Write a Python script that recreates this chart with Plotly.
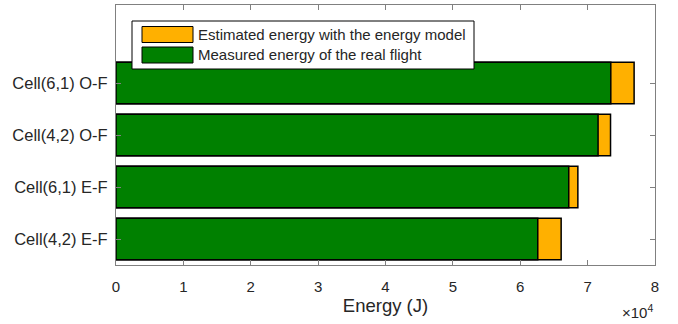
import plotly.graph_objects as go

categories = ["Cell(4,2) E-F", "Cell(6,1) E-F", "Cell(4,2) O-F", "Cell(6,1) O-F"]
measured = [62600, 67200, 71550, 73440]
estimated = [66070, 68550, 73400, 76900]
x_tick_vals = [0, 10000, 20000, 30000, 40000, 50000, 60000, 70000, 80000]
x_tick_text = ["0", "1", "2", "3", "4", "5", "6", "7", "8"]
legend_labels = ["Estimated energy with the energy model", "Measured energy of the real flight"]

ORANGE = "#FFB000"
GREEN = "#008000"
TXT = "#262626"
AX = "#808080"
FONT = "Liberation Sans, Arial, sans-serif"

fig = go.Figure()
fig.add_trace(go.Bar(y=categories, x=estimated, orientation="h", width=0.8,
                     marker=dict(color=ORANGE, line=dict(color="black", width=1.5)),
                     name=legend_labels[0], showlegend=False))
fig.add_trace(go.Bar(y=categories, x=measured, orientation="h", width=0.8,
                     marker=dict(color=GREEN, line=dict(color="black", width=1.5)),
                     name=legend_labels[1], showlegend=False))

W, H = 678, 324
L, R, T, B = 116, 23, 5, 59
pw, ph = W - L - R, H - T - B

def px(x):
    return (x - L) / pw

def py(y):
    return 1 - (y - T) / ph

shapes = []
annotations = []
# legend box
shapes.append(dict(type="rect", xref="paper", yref="paper",
                   x0=px(132), x1=px(474), y0=py(69), y1=py(21),
                   fillcolor="white", line=dict(color="black", width=1)))
for i, (lab, col) in enumerate(zip(legend_labels, [ORANGE, GREEN])):
    yc = 34.5 + i * 20.5
    shapes.append(dict(type="rect", xref="paper", yref="paper",
                       x0=px(142), x1=px(193), y0=py(yc + 8), y1=py(yc - 8),
                       fillcolor=col, line=dict(color="black", width=1)))
    annotations.append(dict(xref="paper", yref="paper", x=px(196), y=py(yc),
                            xanchor="left", yanchor="middle", showarrow=False,
                            text=lab, font=dict(family=FONT, size=15, color=TXT)))
annotations.append(dict(xref="paper", yref="paper", x=1.0, y=py(311),
                        xanchor="right", yanchor="middle", showarrow=False,
                        text="×10<sup>4</sup>", font=dict(family=FONT, size=15, color=TXT)))

fig.update_layout(
    width=W, height=H, margin=dict(l=L, r=R, t=T, b=B, pad=0, autoexpand=False),
    barmode="overlay", plot_bgcolor="white", paper_bgcolor="white",
    font=dict(family=FONT, size=15, color=TXT),
    shapes=shapes, annotations=annotations,
    xaxis=dict(range=[0, 80000], tickvals=x_tick_vals, ticktext=x_tick_text,
               ticks="inside", ticklen=5, tickcolor=AX, showline=True, linecolor=AX,
               linewidth=1, mirror="allticks", showgrid=False, zeroline=False,
               automargin=False, ticklabelstandoff=8,
               title=dict(text="Energy (J)", font=dict(size=18.5), standoff=4),
               tickfont=dict(size=15)),
    yaxis=dict(type="category", categoryorder="array", categoryarray=categories,
               range=[-0.5, 4.5], ticks="inside", ticklen=5, tickcolor=AX,
               showline=True, linecolor=AX, linewidth=1, mirror="allticks",
               showgrid=False, zeroline=False, tickfont=dict(size=16.5),
               automargin=False, ticklabelstandoff=4),
)

fig.write_html("out.html", config={"displayModeBar": False},
               post_script="document.body.style.margin='0';document.body.style.padding='0';")
